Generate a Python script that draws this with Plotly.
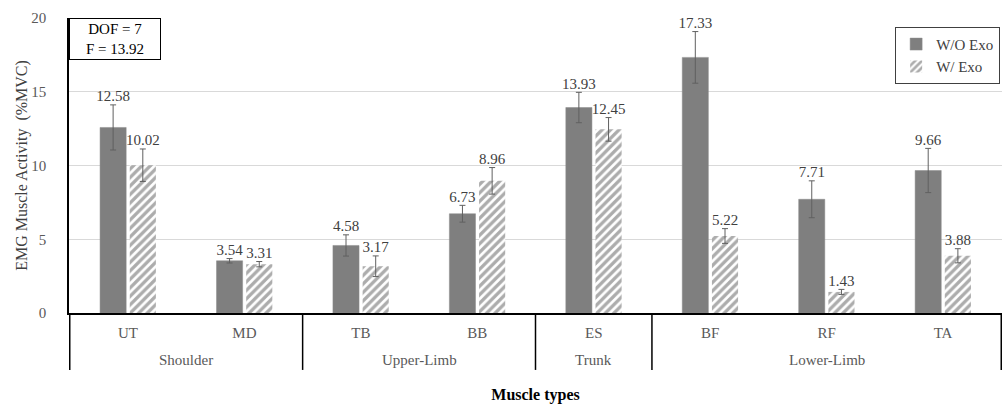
import plotly.graph_objects as go

# Muscle groups (outer level) and muscles (inner level)
groups = ["Shoulder", "Shoulder", "Upper-Limb", "Upper-Limb", "Trunk",
          "Lower-Limb", "Lower-Limb", "Lower-Limb"]
muscles = ["UT", "MD", "TB", "BB", "ES", "BF", "RF", "TA"]

# Mean EMG activity (%MVC) and error-bar half widths
wo_exo = [12.58, 3.54, 4.58, 6.73, 13.93, 17.33, 7.71, 9.66]
wo_err = [1.53, 0.15, 0.72, 0.57, 1.03, 1.75, 1.25, 1.50]
w_exo = [10.02, 3.31, 3.17, 8.96, 12.45, 5.22, 1.43, 3.88]
w_err = [1.10, 0.18, 0.70, 0.90, 0.80, 0.50, 0.17, 0.48]

series_names = ["W/O Exo", "W/ Exo"]
stats_text = "DOF = 7<br>F = 13.92"
y_ticks = [0, 5, 10, 15, 20]

FONT = "Liberation Serif"
GREY = "#7f7f7f"
TXT = "#595959"
BAR_GAP = 0.49

fig = go.Figure()

fig.add_trace(go.Bar(
    name=series_names[0], x=muscles, y=wo_exo,
    marker=dict(color=GREY, line=dict(color="#8c8c8c", width=0.5)),
    error_y=dict(type="data", array=wo_err, color="#606060", thickness=1, width=3),
))
fig.add_trace(go.Bar(
    name=series_names[1], x=muscles, y=w_exo,
    marker=dict(color="white", line=dict(color="white", width=0),
                pattern=dict(shape="/", fgcolor="#5a5a5a", bgcolor="white",
                             size=6, solidity=0.55)),
    error_y=dict(type="data", array=w_err, color="#606060", thickness=1, width=3),
))

# Value labels sit just above the error-bar caps
for vals, errs in ((wo_exo, wo_err), (w_exo, w_err)):
    fig.add_trace(go.Scatter(
        x=muscles, y=[v + e for v, e in zip(vals, errs)],
        mode="text", text=[f"{v:.2f}" for v in vals],
        textposition="top center",
        textfont=dict(family=FONT, size=15, color="#404040"),
        showlegend=False, hoverinfo="skip",
    ))

# Outer category level: group labels and divider lines between groups
DIV_BOTTOM = -0.193
order = []
for i, g in enumerate(groups):
    if not order or order[-1][0] != g:
        order.append([g, i, i])
    else:
        order[-1][2] = i
edges = [order[0][1] - 0.5] + [last + 0.5 for _, _, last in order]
for b in edges:
    fig.add_shape(type="line", xref="x", yref="paper", x0=b, x1=b,
                  y0=0, y1=DIV_BOTTOM, line=dict(color="black", width=1.5))
for g, first, last in order:
    fig.add_annotation(xref="x", yref="paper", x=(first + last) / 2, y=-0.159,
                       yanchor="middle", text=g, showarrow=False,
                       font=dict(family=FONT, size=15, color=TXT))

fig.add_annotation(
    xref="paper", yref="paper", x=0, y=1, xanchor="left", yanchor="top",
    text=stats_text, showarrow=False, align="center",
    font=dict(family=FONT, size=15, color="black"),
    bordercolor="black", borderwidth=1, borderpad=2, width=86,
    bgcolor="white",
)

fig.update_layout(
    width=1006, height=406,
    margin=dict(l=69, r=4, t=18, b=93),
    paper_bgcolor="white", plot_bgcolor="white",
    barmode="group", bargap=BAR_GAP, bargroupgap=0.12,
    scattermode="group", scattergap=BAR_GAP,
    font=dict(family=FONT, size=15, color=TXT),
    showlegend=True,
    legend=dict(
        x=0.998, y=0.97, xanchor="right", yanchor="top",
        bordercolor="#404040", borderwidth=1, bgcolor="white",
        font=dict(family=FONT, size=15, color="#404040"),
        itemwidth=30, tracegroupgap=2,
    ),
)

fig.update_yaxes(
    range=[0, 20], tickvals=y_ticks, showgrid=True, gridcolor="#d9d9d9",
    gridwidth=1, zeroline=False, showline=True, linecolor="black",
    linewidth=1.5, ticks="", ticklabelstandoff=18,
    tickfont=dict(family=FONT, size=15, color=TXT),
    title=dict(text="EMG Muscle Activity  (%MVC)", standoff=0,
               font=dict(family=FONT, size=16, color="#404040")),
)
fig.update_xaxes(
    type="category", showline=True, linecolor="black", linewidth=1.5,
    ticks="", ticklabelstandoff=5,
    tickfont=dict(family=FONT, size=15, color=TXT),
    title=dict(text="<b>Muscle types</b>", standoff=49,
               font=dict(family=FONT, size=16, color="black")),
)

fig.write_html("out.html")
